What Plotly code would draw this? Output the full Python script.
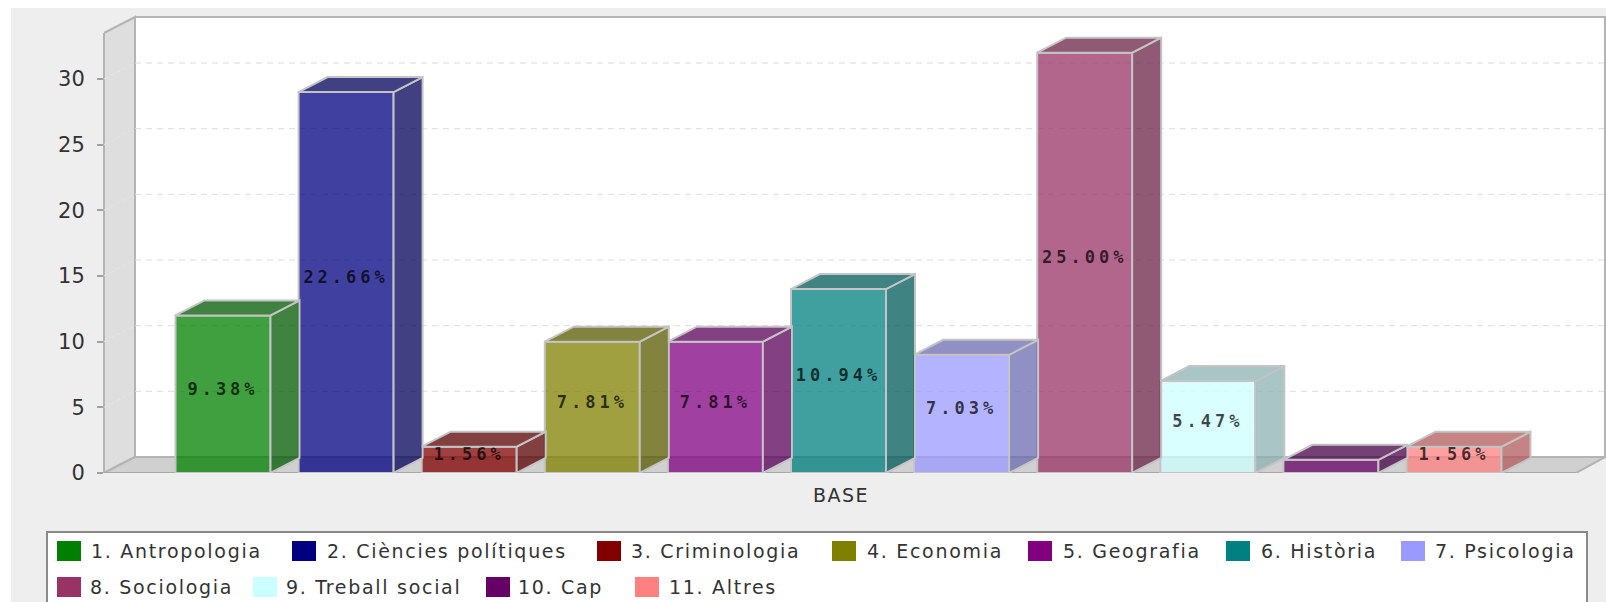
import plotly.graph_objects as go

categories = ["1. Antropologia", "2. Ciències polítiques", "3. Criminologia", "4. Economia",
              "5. Geografia", "6. Història", "7. Psicologia", "8. Sociologia",
              "9. Treball social", "10. Cap", "11. Altres"]
counts = [12, 29, 2, 10, 10, 14, 9, 32, 7, 1, 2]
pct_labels = ["9.38%", "22.66%", "1.56%", "7.81%", "7.81%", "10.94%", "7.03%", "25.00%", "5.47%", "", "1.56%"]
rgb = [(0, 128, 0), (0, 0, 128), (128, 0, 0), (128, 128, 0), (128, 0, 128), (0, 128, 128),
       (153, 153, 255), (153, 51, 102), (204, 255, 255), (102, 0, 102), (255, 128, 128)]
group_label = ["BASE"]
y_ticks = [0, 5, 10, 15, 20, 25, 30]

W, H = 1606, 602
PY = 65.67 / 5          # px per unit
Y0 = 473
X0, PITCH = 223, 123.1
L, R, T = 104, 1606, 14


def ux(px):
    return (px - X0) / PITCH


def uy(py):
    return (Y0 - py) / PY


wall_dx, wall_dy = 31 / PITCH, 16 / PY
bar_dx, bar_dy = 29 / PITCH, 15 / PY
bar_w = 95 / PITCH
front_top = uy(33)
front_right = ux(1576)
left = ux(L)
EDGE = "#c4c4c4"
WALL = "#b4b4b4"


def rgba(c, f=1.0, a=0.75):
    return f"rgba({int(c[0]*f)},{int(c[1]*f)},{int(c[2]*f)},{a})"


def px(x):
    return x / W


def py(y):
    return 1 - y / H


def poly(xs, ys, fill, line=None, w=1):
    d = "M" + " L".join(f"{a},{b}" for a, b in zip(xs, ys)) + " Z"
    return dict(type="path", path=d, xref="x", yref="y", fillcolor=fill, layer="below",
                line=dict(color=line or "rgba(0,0,0,0)", width=w))


shapes = [
    dict(type="rect", xref="paper", yref="paper", x0=px(11), x1=1, y0=0, y1=py(8),
         fillcolor="#eeeeee", line_width=0, layer="below"),
]
# back wall
shapes.append(poly([left + wall_dx, ux(1605), ux(1605), left + wall_dx],
                   [wall_dy, wall_dy, front_top + wall_dy, front_top + wall_dy], "#ffffff", WALL, 2))
# left wall and floor
shapes.append(poly([left, left + wall_dx, left + wall_dx, left],
                   [0, wall_dy, front_top + wall_dy, front_top], "#dedede", WALL, 2))
shapes.append(poly([left, front_right, ux(1605), left + wall_dx],
                   [0, 0, wall_dy, wall_dy], "#d0d0d0", WALL, 2))
# grid
for v in y_ticks[1:]:
    shapes.append(dict(type="line", xref="x", yref="y", x0=left + wall_dx, x1=ux(1605),
                       y0=v + wall_dy, y1=v + wall_dy, layer="below",
                       line=dict(color="#dcdcdc", width=1, dash="6px,5px")))
    shapes.append(dict(type="line", xref="x", yref="y", x0=left, x1=left + wall_dx,
                       y0=v, y1=v + wall_dy, layer="below",
                       line=dict(color="#e6e6e6", width=1, dash="4px,3px")))
# front axis lines
shapes.append(dict(type="line", xref="paper", yref="y", x0=px(L), x1=px(L), y0=0, y1=front_top,
                   line=dict(color=WALL, width=2), layer="below"))
shapes.append(dict(type="line", xref="x", yref="y", x0=left, x1=front_right, y0=0, y1=0,
                   line=dict(color="#a8a8a8", width=2), layer="below"))

# legend
shapes.append(dict(type="rect", xref="paper", yref="paper", x0=px(47), x1=px(1587), y0=-0.02, y1=py(532),
                   fillcolor="#ffffff", line=dict(color="#8a8a8a", width=2), layer="below"))
swatch_x = [57, 292, 597, 832, 1028, 1226, 1401, 57, 253, 486, 635]
text_x = [89, 325, 629, 865, 1061, 1259, 1433, 88, 284, 516, 667]
rows = [551] * 7 + [587] * 4
annotations = []
for name, c, sx, tx, ry in zip(categories, rgb, swatch_x, text_x, rows):
    shapes.append(dict(type="rect", xref="paper", yref="paper", x0=px(sx), x1=px(sx + 24),
                       y0=py(ry + 10), y1=py(ry - 10), fillcolor=rgba(c, a=1), line_width=0, layer="below"))
    annotations.append(dict(xref="paper", yref="paper", x=px(tx), y=py(ry), xanchor="left", yanchor="middle",
                            showarrow=False, text=f'<span style="letter-spacing:1.7px">{name}</span>',
                            font=dict(family="DejaVu Sans", size=19, color="#333333")))

fig = go.Figure()
positions = list(range(len(categories)))
for i, (name, v, c) in enumerate(zip(categories, counts, rgb)):
    fig.add_trace(go.Bar(x=[i], y=[v], width=bar_w, name=name, showlegend=False,
                         marker=dict(color=rgba(c), line=dict(color=EDGE, width=2))))
for i, (name, v, c) in enumerate(zip(categories, counts, rgb)):
    xl, xr = i - bar_w / 2, i + bar_w / 2
    fig.add_trace(go.Scatter(x=[xr, xr + bar_dx, xr + bar_dx, xr, xr], y=[0, bar_dy, v + bar_dy, v, 0],
                             mode="lines", fill="toself", fillcolor=rgba(c, 0.7), showlegend=False,
                             line=dict(color=EDGE, width=2), hoverinfo="skip"))
    fig.add_trace(go.Scatter(x=[xl, xl + bar_dx, xr + bar_dx, xr, xl], y=[v, v + bar_dy, v + bar_dy, v, v],
                             mode="lines", fill="toself", fillcolor=rgba(c, 0.7), showlegend=False,
                             line=dict(color=EDGE, width=2), hoverinfo="skip"))
fig.add_trace(go.Scatter(
    x=positions, y=[v / 2 + 0.3 for v in counts], mode="text", showlegend=False, hoverinfo="skip",
    text=[f'<span style="letter-spacing:4px"><b>{t}</b></span>' for t in pct_labels],
    textposition="middle center",
    textfont=dict(family="DejaVu Sans Mono", size=17, color="rgba(0,0,0,0.72)")))

fig.update_layout(
    width=W, height=H, autosize=False, barmode="overlay",
    margin=dict(l=0, r=0, t=0, b=0, autoexpand=False), paper_bgcolor="#ffffff", plot_bgcolor="rgba(0,0,0,0)",
    shapes=shapes, annotations=annotations,
    xaxis=dict(domain=[px(L), 1], range=[ux(L), ux(R)], showgrid=False, zeroline=False, showline=False,
               automargin=False, tickmode="array", tickvals=[5.02],
               ticktext=[f'<span style="letter-spacing:1.5px">{group_label[0]}</span>'],
               ticks="outside", ticklen=5, tickcolor="rgba(0,0,0,0)",
               tickfont=dict(family="DejaVu Sans", size=19, color="#333333")),
    yaxis=dict(domain=[py(Y0), py(T)], range=[0, uy(T)], showgrid=False, zeroline=False, showline=False,
               automargin=False, tickmode="array", tickvals=y_ticks, ticktext=[str(v) for v in y_ticks],
               ticks="outside", ticklen=6, tickcolor="#a0a0a0", tickwidth=1.5, ticklabelstandoff=8,
               tickfont=dict(family="DejaVu Sans", size=21, color="#333333")),
)
fig.write_html("out.html", config={"displayModeBar": False},
               post_script="document.body.style.margin='0';document.documentElement.style.overflow='hidden';")
